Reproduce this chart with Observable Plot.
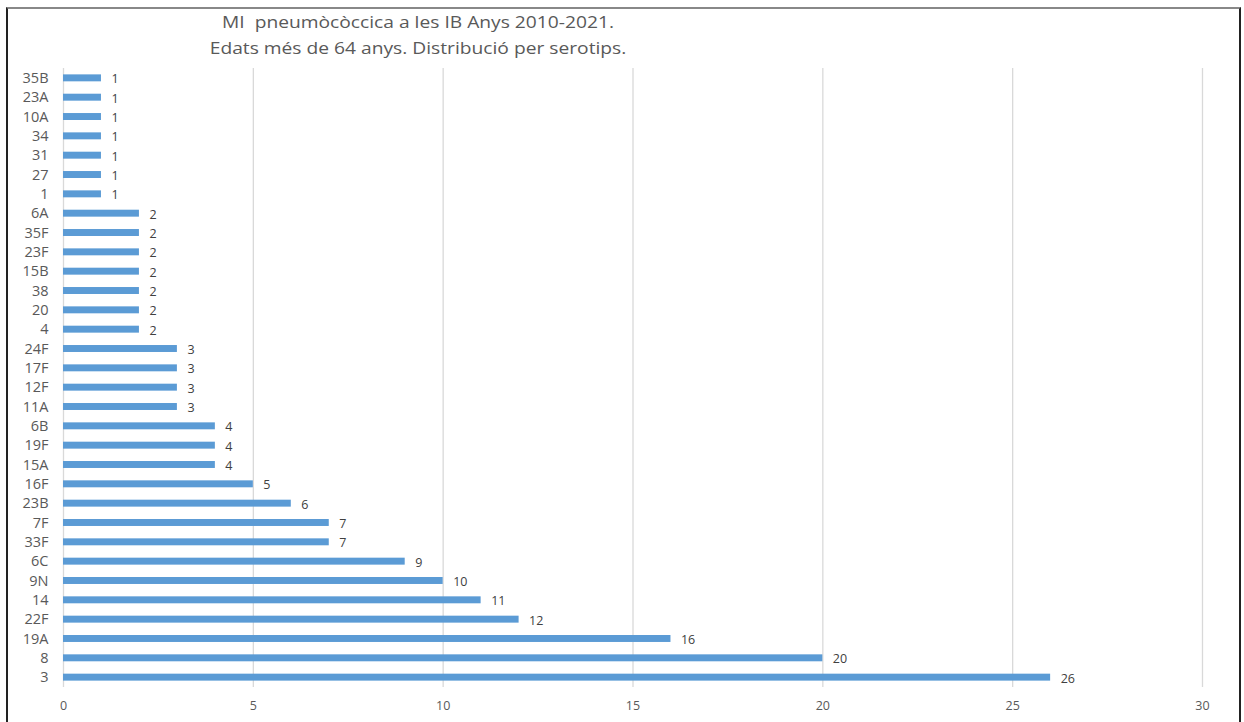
<!DOCTYPE html>
<html>
<head>
<meta charset="utf-8">
<script src="https://cdn.jsdelivr.net/npm/d3@7"></script>
<script src="https://cdn.jsdelivr.net/npm/@observablehq/plot@0.6"></script>
<style>
  html, body { margin: 0; padding: 0; background: #fff; }
  #wrap { position: relative; width: 1244px; height: 722px; overflow: hidden; font-family: "Open Sans", sans-serif; }
  #frame { position: absolute; left: 6px; top: 7px; width: 1235px; height: 730px; border-left: 2px solid #222; border-right: 2px solid #222; border-top: 2px solid #888; box-sizing: border-box; pointer-events: none; }
  #title { position: absolute; left: 0; width: 836px; top: 9px; text-align: center; color: #595959; font-size: 17px; line-height: 26px; transform: scaleX(1.13); transform-origin: 418px 0; }
  #chart { position: absolute; left: 0; top: 0; }
</style>
</head>
<body>
<div id="wrap">
  <div id="chart"></div>
  <div id="frame"></div>
  <div id="title">MI&nbsp; pneumòcòccica a les IB Anys 2010-2021.<br>Edats més de 64 anys. Distribució per serotips.</div>
</div>
<script>
const serotypes = ["35B","23A","10A","34","31","27","1","6A","35F","23F","15B","38","20","4","24F","17F","12F","11A","6B","19F","15A","16F","23B","7F","33F","6C","9N","14","22F","19A","8","3"];
const counts    = [1,1,1,1,1,1,1,2,2,2,2,2,2,2,3,3,3,3,4,4,4,5,6,7,7,9,10,11,12,16,20,26];
const xTicks = [0,5,10,15,20,25,30];

const data = serotypes.map((s, i) => ({serotype: s, count: counts[i]}));

const chart = Plot.plot({
  width: 1244,
  height: 722,
  marginTop: 62,
  marginBottom: 29,
  marginLeft: 63,
  marginRight: 42,
  style: {fontFamily: "'Open Sans', sans-serif", background: "transparent"},
  x: {domain: [0, 30], ticks: xTicks, label: null},
  y: {domain: serotypes, padding: 0.64, round: false, label: null},
  marks: [
    Plot.ruleX(xTicks, {stroke: "#d9d9d9", strokeWidth: 1.3, insetTop: 6, insetBottom: 6}),
    Plot.barX(data, {y: "serotype", x: "count", fill: "#5b9bd5"}),
    Plot.text(data, {y: "serotype", x: "count", text: d => String(d.count), textAnchor: "start", dx: 10, dy: 1, fontSize: 12.5, fill: "#404040"}),
    Plot.axisX({ticks: xTicks, tickSize: 0, tickPadding: 8, fontSize: 12.5, color: "#595959", label: null}),
    Plot.axisY({tickSize: 0, tickPadding: 15, fontSize: 14.5, color: "#595959", label: null})
  ]
});
document.getElementById("chart").appendChild(chart);
</script>
</body>
</html>
